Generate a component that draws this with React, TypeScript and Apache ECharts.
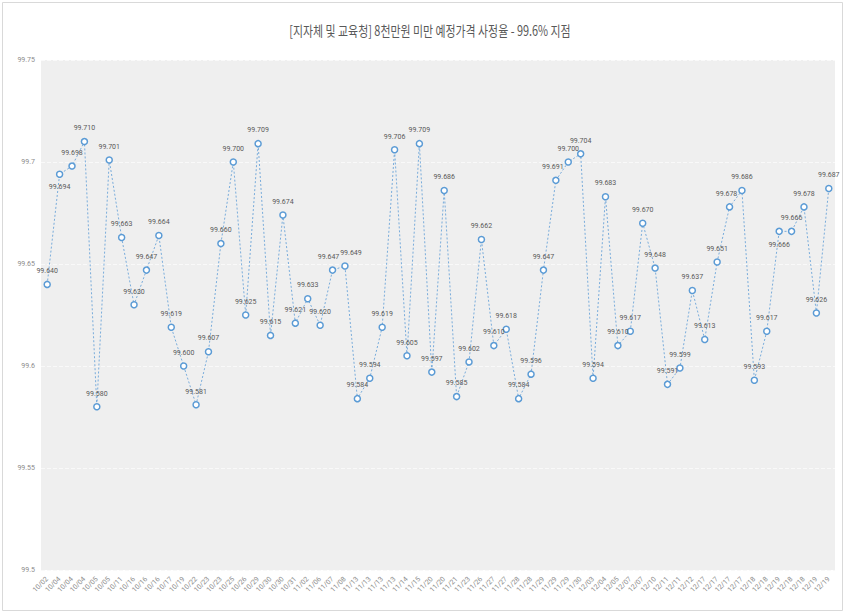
import React, { useEffect, useRef } from "react";
import * as echarts from "echarts";

const titleText = "[지자체 및 교육청] 8천만원 미만 예정가격 사정율 - 99.6% 지점";

const dates = [
  "10/02", "10/04", "10/04", "10/04", "10/05", "10/05", "10/11", "10/16", "10/16", "10/16",
  "10/17", "10/19", "10/22", "10/23", "10/23", "10/25", "10/26", "10/29", "10/30", "10/30",
  "10/31", "11/02", "11/06", "11/07", "11/08", "11/13", "11/13", "11/13", "11/13", "11/14",
  "11/15", "11/20", "11/20", "11/21", "11/23", "11/26", "11/27", "11/27", "11/28", "11/28",
  "11/29", "11/29", "11/29", "11/30", "12/03", "12/04", "12/05", "12/07", "12/07", "12/10",
  "12/11", "12/11", "12/12", "12/17", "12/17", "12/17", "12/17", "12/18", "12/18", "12/19",
  "12/18", "12/18", "12/19", "12/19",
];

const rates = [
  99.640, 99.694, 99.698, 99.710, 99.580, 99.701, 99.663, 99.630, 99.647, 99.664,
  99.619, 99.600, 99.581, 99.607, 99.660, 99.700, 99.625, 99.709, 99.615, 99.674,
  99.621, 99.633, 99.620, 99.647, 99.649, 99.584, 99.594, 99.619, 99.706, 99.605,
  99.709, 99.597, 99.686, 99.585, 99.602, 99.662, 99.610, 99.618, 99.584, 99.596,
  99.647, 99.691, 99.700, 99.704, 99.594, 99.683, 99.610, 99.617, 99.670, 99.648,
  99.591, 99.599, 99.637, 99.613, 99.651, 99.678, 99.686, 99.593, 99.617, 99.666,
  99.666, 99.678, 99.626, 99.687,
];

const yMin = 99.5;
const yMax = 99.75;
const yStep = 0.05;

export default function App() {
  const ref = useRef<HTMLDivElement>(null);

  useEffect(() => {
    document.body.style.margin = "0";
    if (!ref.current) return;
    const chart = echarts.init(ref.current, undefined, { renderer: "svg" });
    const labelTweaks: Record<number, any> = {
      1: { position: "bottom" },
      59: { position: "bottom" },
      23: { offset: [-4, 0] },
      24: { offset: [6, 0] },
      41: { offset: [-3, 0] },
      55: { offset: [-3, 0] },
    };
    const seriesData = rates.map((v, i) =>
      labelTweaks[i] ? { value: v, label: labelTweaks[i] } : { value: v }
    );
    chart.setOption({
      animation: false,
      backgroundColor: "#ffffff",
      graphic: [
        {
          type: "rect",
          shape: { x: 2.5, y: 2.5, width: 840, height: 608 },
          style: { fill: "none", stroke: "#d9d9d9", lineWidth: 1 },
          silent: true,
          z: -1,
        },
        {
          type: "text",
          x: 430,
          y: 30,
          scaleX: 0.78,
          style: {
            text: titleText,
            fontSize: 14,
            fontFamily: "Noto Sans CJK KR",
            fill: "#595959",
            align: "center",
            verticalAlign: "middle",
          },
        },
      ],
      grid: {
        left: 41,
        right: 16,
        top: 60,
        bottom: 44,
        show: true,
        backgroundColor: "#efefef",
        borderWidth: 0,
      },
      xAxis: {
        type: "category",
        data: dates,
        boundaryGap: true,
        axisLine: { show: false },
        axisTick: { show: false },
        axisLabel: {
          rotate: 45,
          interval: 0,
          fontSize: 7,
          color: "#8c8c8c",
          fontFamily: "Roboto",
          margin: 8,
        },
      },
      yAxis: {
        type: "value",
        min: yMin,
        max: yMax,
        interval: yStep,
        axisLine: { show: false },
        axisTick: { show: false },
        axisLabel: {
          fontSize: 7,
          color: "#8c8c8c",
          fontFamily: "Roboto",
          margin: 6,
          formatter: (v: number) => String(+v.toFixed(2)),
        },
        splitLine: {
          show: true,
          lineStyle: { color: "#f9f9f9", type: "dashed", width: 1 },
        },
      },
      series: [
        {
          type: "line",
          data: seriesData,
          symbol: "circle",
          symbolSize: 6,
          itemStyle: { color: "#ffffff", borderColor: "#5b9bd5", borderWidth: 1.5 },
          lineStyle: { color: "#5b9bd5", width: 0.8, type: [2, 2] },
          label: {
            show: true,
            position: "top",
            distance: 6,
            fontSize: 7,
            fontFamily: "Roboto",
            color: "#595959",
            formatter: (p: any) => Number(p.value).toFixed(3),
          },
        },
      ],
    });
    return () => chart.dispose();
  }, []);

  return <div ref={ref} style={{ width: 851, height: 614 }} />;
}
